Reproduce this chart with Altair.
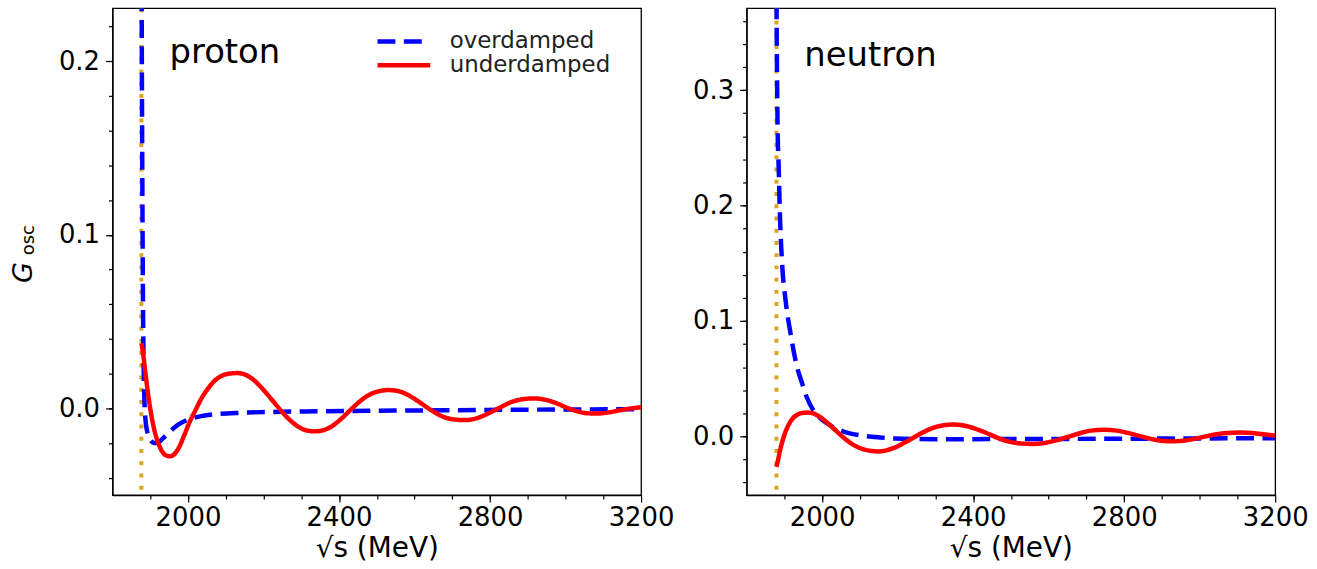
import altair as alt
import pandas as pd

FONT = "DejaVu Sans"

# ---------------- data ----------------
# proton, underdamped (red)
p_under_E = [1877, 1882, 1888, 1895, 1903, 1912, 1922, 1932, 1942, 1952, 1962, 1975, 1990,
             2005, 2020, 2035, 2050, 2070, 2090, 2110, 2130, 2150, 2170, 2195, 2220, 2245,
             2270, 2295, 2315, 2335, 2355, 2380, 2405, 2430, 2455, 2480, 2505, 2530, 2555,
             2580, 2610, 2640, 2670, 2700, 2735, 2765, 2795, 2825, 2855, 2885, 2915, 2945,
             2975, 3005, 3035, 3060, 3085, 3110, 3140, 3170, 3200]
p_under_G = [0.0375, 0.030, 0.019, 0.007, -0.004, -0.0135, -0.0205, -0.025, -0.0272, -0.0277,
             -0.0268, -0.0230, -0.0155, -0.0075, -0.0010, 0.0055, 0.0105, 0.0158, 0.0188,
             0.0200, 0.0203, 0.0195, 0.0170, 0.0118, 0.0055, -0.0010, -0.0068, -0.0110,
             -0.0128, -0.0133, -0.0128, -0.0105, -0.0062, -0.0010, 0.0040, 0.0078, 0.0098,
             0.0105, 0.0100, 0.0080, 0.0040, -0.0005, -0.0043, -0.0063, -0.0068, -0.0057,
             -0.0030, 0.0003, 0.0035, 0.0052, 0.0057, 0.0050, 0.0030, 0.0002, -0.0020,
             -0.0029, -0.0030, -0.0025, -0.0013, -0.0002, 0.0006]
# proton, overdamped (blue)
p_over_E = [1876.7, 1877.5, 1878.5, 1879.5, 1880.5, 1881.5, 1883, 1885, 1888, 1892, 1897,
            1903, 1910, 1918, 1928, 1940, 1955, 1975, 2000, 2035, 2080, 2140, 2220, 2350,
            2500, 2700, 2900, 3200]
p_over_G = [0.30, 0.22, 0.16, 0.11, 0.07, 0.042, 0.018, 0.002, -0.008, -0.0135, -0.0170,
            -0.0190, -0.0200, -0.0200, -0.0185, -0.0160, -0.0128, -0.0093, -0.0065, -0.0045,
            -0.0033, -0.0026, -0.0021, -0.0017, -0.0014, -0.0011, -0.0008, -0.0005]

# neutron, underdamped (red)
n_under_E = [1879.1, 1883, 1888, 1895, 1903, 1912, 1922, 1935, 1950, 1964, 1980, 1998, 2018,
             2040, 2062, 2085, 2110, 2130, 2148, 2168, 2190, 2215, 2240, 2265, 2290, 2318,
             2347, 2375, 2405, 2435, 2465, 2495, 2525, 2558, 2590, 2620, 2650, 2680, 2712,
             2747, 2780, 2812, 2845, 2878, 2905, 2932, 2962, 2995, 3030, 3065, 3108, 3150,
             3180, 3200]
n_under_G = [-0.0264, -0.021, -0.013, -0.004, 0.004, 0.0105, 0.0155, 0.0190, 0.0205, 0.0208,
             0.0195, 0.0160, 0.0105, 0.0040, -0.0025, -0.0078, -0.0113, -0.0127, -0.0130,
             -0.0123, -0.0100, -0.0060, -0.0015, 0.0032, 0.0070, 0.0095, 0.0103, 0.0095,
             0.0068, 0.0030, -0.0012, -0.0045, -0.0062, -0.0066, -0.0057, -0.0035, -0.0005,
             0.0025, 0.0050, 0.0058, 0.0050, 0.0028, 0.0000, -0.0027, -0.0040, -0.0043,
             -0.0036, -0.0015, 0.0010, 0.0027, 0.0033, 0.0025, 0.0014, 0.0008]
# neutron, overdamped (blue)
n_over_E = [1878.8, 1879.5, 1880.7, 1882, 1885, 1888, 1894, 1903, 1916, 1933, 1947, 1960,
            1980, 2000, 2030, 2061, 2100, 2140, 2193, 2300, 2500, 2800, 3200]
n_over_G = [0.40, 0.36, 0.31, 0.27, 0.233, 0.195, 0.150, 0.1186, 0.090, 0.061, 0.046, 0.0335,
            0.021, 0.0145, 0.0080, 0.0038, 0.0010, -0.0005, -0.0018, -0.0024, -0.0023,
            -0.0020, -0.0015]

# thresholds (2 m_p, 2 m_n)
p_threshold = [1876.5]
n_threshold = [1879.1]

models = ["overdamped", "underdamped"]
model_colors = ["#0000ff", "#ff0000"]

x_domain = [1800, 3200]
p_y_domain = [-0.050, 0.2306]
n_y_domain = [-0.0508, 0.371]

x_major = [2000, 2400, 2800, 3200]
x_minor = [1900, 2000, 2100, 2200, 2300, 2400, 2500, 2600, 2700, 2800, 2900, 3000, 3100]
p_y_major = [0.0, 0.1, 0.2]
p_y_minor = [-0.04, -0.02, 0.0, 0.02, 0.04, 0.06, 0.08, 0.10, 0.12, 0.14, 0.16, 0.18, 0.20, 0.22]
n_y_major = [0.0, 0.1, 0.2, 0.3]
n_y_minor = [-0.04, -0.02, 0.0, 0.02, 0.04, 0.06, 0.08, 0.10, 0.12, 0.14, 0.16, 0.18, 0.20,
             0.22, 0.24, 0.26, 0.28, 0.30, 0.32, 0.34, 0.36]

# ---------------- tables ----------------
p_df = pd.DataFrame({
    "E": p_over_E + p_under_E,
    "G": p_over_G + p_under_G,
    "model": ["overdamped"] * len(p_over_E) + ["underdamped"] * len(p_under_E),
})
n_over_df = pd.DataFrame({"E": n_over_E, "G": n_over_G})
n_under_df = pd.DataFrame({"E": n_under_E, "G": n_under_G})
p_thr_df = pd.DataFrame({"E": p_threshold})
n_thr_df = pd.DataFrame({"E": n_threshold})
p_lab_df = pd.DataFrame({"E": [1951], "G": [0.199], "label": ["proton"]})
n_lab_df = pd.DataFrame({"E": [1953], "G": [0.321], "label": ["neutron"]})
sub_df = pd.DataFrame({"t": ["osc"]})

W, H = 531, 489
LINE_W = 4.5
DASH = [18, 8.5]
TICK_FS = 26

x_scale = alt.Scale(domain=x_domain, nice=False, zero=False)


def x_major_axis():
    return alt.Axis(values=x_major, format="d", orient="bottom", tickSize=7, labelPadding=3,
                    labelFlush=False, labelOverlap=False, grid=False,
                    title="√s (MeV)", titleX=W / 2, titleY=62, titleAlign="center",
                    titleBaseline="alphabetic", titleFontSize=28, titleFont=FONT,
                    titleFontWeight="normal", titleColor="black")


def x_minor_axis():
    return alt.Axis(values=x_minor, orient="bottom", labels=False, tickSize=4, domain=False,
                    grid=False, title=None)


def y_major_axis(vals, title):
    kw = dict(values=vals, format=".1f", orient="left", tickSize=7, labelPadding=6,
              labelFlush=False, labelOverlap=False, grid=False)
    if title:
        kw.update(title=title, titleAngle=270, titleX=-81.7, titleY=265, titleAlign="center",
                  titleBaseline="alphabetic", titleFontSize=27, titleFontStyle="italic",
                  titleFont=FONT, titleFontWeight="normal", titleColor="black")
    else:
        kw.update(title=None)
    return alt.Axis(**kw)


def y_minor_axis(vals):
    return alt.Axis(values=vals, orient="left", labels=False, tickSize=4, domain=False,
                    grid=False, title=None)


def threshold_layer(df):
    return alt.Chart(df).mark_rule(color="goldenrod", strokeWidth=4, strokeDash=[4, 8.3]).encode(
        x=alt.X("E:Q", scale=x_scale, axis=None))


def label_layer(df, y_scale, y_minor):
    return alt.Chart(df).mark_text(align="left", baseline="alphabetic", fontSize=34, font=FONT,
                                   color="black").encode(
        x=alt.X("E:Q", scale=x_scale, axis=x_minor_axis()),
        y=alt.Y("G:Q", scale=y_scale, axis=y_minor_axis(y_minor)),
        text="label:N")


# ---------------- proton panel ----------------
p_y_scale = alt.Scale(domain=p_y_domain, nice=False, zero=False)
legend = alt.Legend(orient="none", legendX=263.7, legendY=22.5, title=None, symbolType="stroke",
                    symbolSize=2809, symbolStrokeWidth=LINE_W, labelFontSize=23, labelFont=FONT,
                    labelColor="#222222", labelOffset=17, labelLimit=400, clipHeight=21.7,
                    rowPadding=0, padding=0)

p_lines = alt.Chart(p_df).mark_line(strokeWidth=LINE_W, clip=True, interpolate="monotone").encode(
    x=alt.X("E:Q", scale=x_scale, axis=x_major_axis()),
    y=alt.Y("G:Q", scale=p_y_scale, axis=y_major_axis(p_y_major, "G")),
    color=alt.Color("model:N", scale=alt.Scale(domain=models, range=model_colors), legend=legend),
    strokeDash=alt.StrokeDash("model:N", scale=alt.Scale(domain=models, range=[DASH, [1, 0]]),
                              legend=legend),
)

p_sub = alt.Chart(sub_df).mark_text(angle=270, fontSize=18, font=FONT, align="center",
                                    baseline="alphabetic", color="black").encode(
    x=alt.value(-78.5), y=alt.value(233), text="t:N")

left = alt.layer(
    threshold_layer(p_thr_df),
    p_lines,
    label_layer(p_lab_df, p_y_scale, p_y_minor),
    p_sub,
).resolve_axis(x="independent", y="independent").properties(width=W, height=H)

# ---------------- neutron panel ----------------
n_y_scale = alt.Scale(domain=n_y_domain, nice=False, zero=False)

n_over = alt.Chart(n_over_df).mark_line(strokeWidth=LINE_W, clip=True, interpolate="monotone",
                                        color=model_colors[0], strokeDash=DASH).encode(
    x=alt.X("E:Q", scale=x_scale, axis=x_major_axis()),
    y=alt.Y("G:Q", scale=n_y_scale, axis=y_major_axis(n_y_major, None)),
)
n_under = alt.Chart(n_under_df).mark_line(strokeWidth=LINE_W, clip=True, interpolate="monotone",
                                          color=model_colors[1]).encode(
    x=alt.X("E:Q", scale=x_scale, axis=None),
    y=alt.Y("G:Q", scale=n_y_scale, axis=None),
)

right = alt.layer(
    threshold_layer(n_thr_df),
    n_over,
    n_under,
    label_layer(n_lab_df, n_y_scale, n_y_minor),
).resolve_axis(x="independent", y="independent").properties(width=W, height=H)

chart = alt.hconcat(left, right, spacing=17).properties(
    padding={"left": 8, "top": 4, "right": 8, "bottom": 4},
    background="white",
).configure_view(stroke="black", strokeWidth=1.3).configure_axis(
    labelFont=FONT, labelFontSize=TICK_FS, labelColor="black", tickColor="black",
    domainColor="black", tickWidth=1.2, domainWidth=1.2,
).configure_text(font=FONT)

chart.save("out.html", embed_options={"renderer": "svg", "actions": False})
